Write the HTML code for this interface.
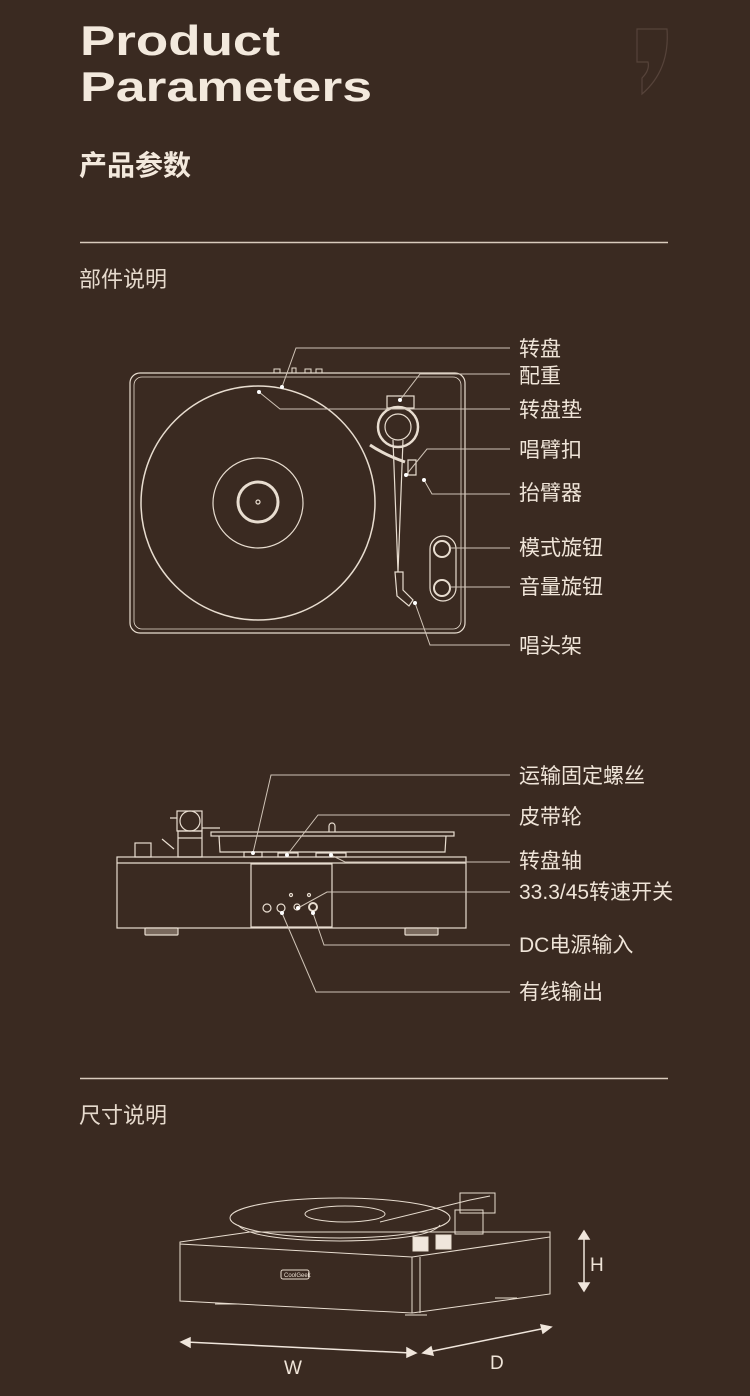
<!DOCTYPE html>
<html><head><meta charset="utf-8"><style>
html,body{margin:0;padding:0;background:#3a2a21;}
body{width:750px;height:1396px;overflow:hidden;position:relative;font-family:"Liberation Sans","Noto Sans CJK SC",sans-serif;color:#efe4d8;}
svg{position:absolute;left:0;top:0;}
</style></head><body>
<svg width="750" height="1396" viewBox="0 0 750 1396" xmlns="http://www.w3.org/2000/svg" font-family="Liberation Sans, Noto Sans CJK SC, sans-serif">
<rect width="750" height="1396" fill="#3a2a21"/>
<!-- header -->
<text x="80" y="55" font-size="42" fill="#f3e9dd" font-weight="bold" textLength="200" lengthAdjust="spacingAndGlyphs">Product</text>
<text x="80" y="101" font-size="42" fill="#f3e9dd" font-weight="bold" textLength="292" lengthAdjust="spacingAndGlyphs">Parameters</text>
<path d="M637 29 L667 29 Q670 70 642 94 L642 78 Q650 70 648 62 L637 62 Z" fill="none" stroke="#56433a" stroke-width="1.2"/>
<text x="79" y="175" font-size="28" fill="#f3e9dd" font-weight="bold">产品参数</text>
<line x1="80" y1="242.5" x2="668" y2="242.5" stroke="#d9cbbd" stroke-width="1.5"/>
<text x="79" y="287" font-size="22" fill="#e6dacd">部件说明</text>
<line x1="80" y1="1078.5" x2="668" y2="1078.5" stroke="#d9cbbd" stroke-width="1.5"/>
<text x="79" y="1123" font-size="22" fill="#e6dacd">尺寸说明</text>

<g stroke="#e8ddd0" fill="none" stroke-width="1.2">
<!-- top view -->
<rect x="130" y="373" width="335" height="260" rx="10"/>
<rect x="134" y="377" width="327" height="252" rx="8" stroke-width="0.8"/>
<path d="M274 373 v-4 h6 v4 M292 373 v-5 h4 v5 M305 373 v-4 h6 v4 M316 373 v-4 h6 v4" stroke-width="1"/>
<circle cx="258" cy="503" r="117" stroke-width="1.5"/>
<circle cx="258" cy="503" r="45"/>
<circle cx="258" cy="502" r="20" stroke-width="3"/>
<circle cx="258" cy="502" r="2"/>
<rect x="387" y="396" width="27" height="12"/>
<circle cx="398" cy="427" r="20" stroke-width="2.5"/>
<circle cx="398" cy="427" r="13"/>
<path d="M393 440 L398 572 L403 440" />
<path d="M370 445 Q385 455 405 462" stroke-width="3"/>
<path d="M408 460 h8 v15 h-8 z"/>
<path d="M395 572 h8 v18 l10 10 l-4 6 l-12 -10 z"/>
<rect x="430" y="536" width="26" height="65" rx="13"/>
<circle cx="442" cy="549" r="8" stroke-width="2"/>
<circle cx="442" cy="588" r="8" stroke-width="2"/>
<!-- side view -->
<rect x="117" y="857" width="349" height="71"/>
<line x1="117" y1="863" x2="466" y2="863"/>
<rect x="251" y="864" width="81" height="63"/>
<rect x="145" y="928" width="33" height="7" rx="1" fill="#7a6a5e"/>
<rect x="405" y="928" width="33" height="7" rx="1" fill="#7a6a5e"/>
<rect x="211" y="832" width="243" height="4"/>
<path d="M219 836 L220 852 L445 852 L446 836"/>
<path d="M329 832 v-6 a3 3 0 0 1 6 0 v6"/>
<rect x="135" y="843" width="16" height="14"/>
<rect x="177" y="811" width="25" height="20"/>
<circle cx="190" cy="821" r="10"/>
<path d="M178 831 h24 v26 h-24 z M178 838 h24 M170 818 h7 M202 828 h18"/>
<path d="M162 839 l12 10"/>
<rect x="244" y="852" width="18" height="5"/>
<rect x="278" y="853" width="20" height="4"/>
<rect x="316" y="853" width="30" height="4"/>
<circle cx="267" cy="908" r="4"/>
<circle cx="281" cy="908" r="4"/>
<circle cx="297" cy="907" r="3"/>
<circle cx="313" cy="907" r="4" stroke-width="2"/>
<circle cx="291" cy="895" r="1.5"/><circle cx="309" cy="895" r="1.5"/>
</g>

<!-- leader lines -->
<g stroke="#cfc3b6" fill="none" stroke-width="1">
<path d="M510 348 H296 L282 387"/>
<path d="M510 374 H420 L400 400"/>
<path d="M510 409 H280 L259 392"/>
<path d="M510 449 H427 L406 475"/>
<path d="M510 494 H432 L424 480"/>
<path d="M510 548 H450"/>
<path d="M510 587 H450"/>
<path d="M510 645 H430 L415 603"/>
<path d="M510 775 H271 L253 853"/>
<path d="M510 815 H318 L287 855"/>
<path d="M510 862 H345 L331 855"/>
<path d="M510 892 H327 L298 908"/>
<path d="M510 945 H324 L313 913"/>
<path d="M510 992 H316 L282 913"/>
</g>
<g fill="#ffffff">
<circle cx="282" cy="387" r="2"/><circle cx="400" cy="400" r="2"/><circle cx="259" cy="392" r="2"/>
<circle cx="406" cy="475" r="2"/><circle cx="424" cy="480" r="2"/><circle cx="415" cy="603" r="2"/>
<circle cx="253" cy="853" r="2"/><circle cx="287" cy="855" r="2"/><circle cx="331" cy="855" r="2"/>
<circle cx="298" cy="908" r="2"/><circle cx="313" cy="913" r="2"/><circle cx="282" cy="913" r="2"/>
</g>
<g font-size="21" fill="#efe4d8">
<text x="519" y="356">转盘</text>
<text x="519" y="383">配重</text>
<text x="519" y="417">转盘垫</text>
<text x="519" y="457">唱臂扣</text>
<text x="519" y="500">抬臂器</text>
<text x="519" y="555">模式旋钮</text>
<text x="519" y="594">音量旋钮</text>
<text x="519" y="653">唱头架</text>
<text x="519" y="783">运输固定螺丝</text>
<text x="519" y="824">皮带轮</text>
<text x="519" y="868">转盘轴</text>
<text x="519" y="899">33.3/45转速开关</text>
<text x="519" y="952">DC电源输入</text>
<text x="519" y="999">有线输出</text>
</g>

<!-- perspective view -->
<g stroke="#e8ddd0" fill="none" stroke-width="1">
<path d="M180 1242 L250 1232 L550 1232 L550 1237 L412 1257 L180 1244 Z"/>
<path d="M180 1244 L180 1301 L412 1313 L412 1257"/>
<path d="M412 1313 L550 1294 L550 1237"/>
<path d="M420 1257 L420 1313"/>
<ellipse cx="340" cy="1218" rx="110" ry="20"/>
<path d="M238 1225 Q250 1240 340 1241 Q430 1240 440 1225"/>
<ellipse cx="345" cy="1214" rx="40" ry="8"/>
<path d="M380 1222 L470 1200 L490 1196"/>
<rect x="460" y="1193" width="35" height="20"/>
<rect x="455" y="1210" width="28" height="24"/>
<rect x="413" y="1237" width="15" height="14" fill="#f0e6dc"/>
<rect x="436" y="1235" width="15" height="14" fill="#f0e6dc"/>
<rect x="281" y="1270" width="28" height="9" rx="2"/>
<path d="M215 1304 h24 M405 1315 h22 M495 1298 h22"/>
</g>
<text x="284" y="1277" font-size="6" fill="#e8ddd0">CoolGeek</text>
<g stroke="#f0e6dc" stroke-width="1.5" fill="#f0e6dc">
<line x1="584" y1="1236" x2="584" y2="1286"/>
<path d="M584 1231 l-5 8 h10 z M584 1291 l-5 -8 h10 z"/>
<line x1="186" y1="1342" x2="411" y2="1353"/>
<path d="M181 1342 l9 -4 v9 z M416 1353 l-9 4 v-9 z"/>
<line x1="428" y1="1352" x2="546" y2="1328"/>
<path d="M423 1353 l8 -6 l2 8 z M551 1327 l-8 6 l-2 -8 z"/>
</g>
<g font-size="19" fill="#efe4d8">
<text x="284" y="1374">W</text>
<text x="490" y="1369">D</text>
<text x="590" y="1271">H</text>
</g>
</svg>
</body></html>
